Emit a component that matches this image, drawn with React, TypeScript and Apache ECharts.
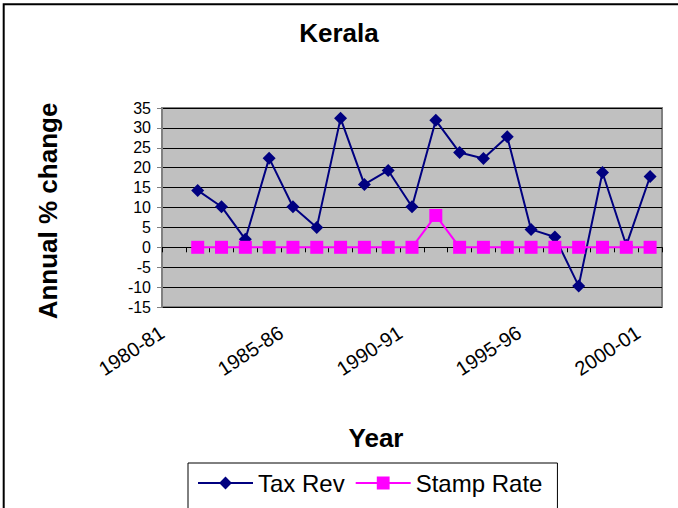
import React, { useEffect, useRef } from "react";
import * as echarts from "echarts";

const years = [
  "1980-81", "1981-82", "1982-83", "1983-84", "1984-85", "1985-86", "1986-87",
  "1987-88", "1988-89", "1989-90", "1990-91", "1991-92", "1992-93", "1993-94",
  "1994-95", "1995-96", "1996-97", "1997-98", "1998-99", "1999-00", "2000-01",
];
const taxRev = [
  null, 14.3, 10.2, 2.0, 22.4, 10.2, 5.0, 32.4, 15.8, 19.3, 10.2,
  31.9, 23.8, 22.3, 27.8, 4.5, 2.6, -9.7, 18.8, 0.5, 17.8,
];
const stampRate = [
  null, 0, 0, 0, 0, 0, 0, 0, 0, 0, 0,
  8, 0, 0, 0, 0, 0, 0, 0, 0, 0,
];
const yMin = -15;
const yMax = 35;
const yStep = 5;

const FONT = "Arial, 'Liberation Sans', sans-serif";

export default function App() {
  const ref = useRef<HTMLDivElement>(null);
  useEffect(() => {
    if (!ref.current) return;
    const chart = echarts.init(ref.current, undefined, { renderer: "svg" });
    chart.setOption({
      animation: false,
      backgroundColor: "#FFFFFF",
      textStyle: { fontFamily: FONT },
      title: {
        text: "Kerala",
        left: "center",
        top: 20,
        padding: 0,
        textStyle: { fontFamily: FONT, fontSize: 26, fontWeight: "bold", color: "#000" },
      },
      legend: {
        left: 188,
        top: 463,
        orient: "horizontal",
        padding: [8, 15, 40, 9],
        borderColor: "#000",
        borderWidth: 1,
        itemWidth: 55,
        itemHeight: 16,
        itemGap: 10,
        textStyle: { fontFamily: FONT, fontSize: 24, color: "#000" },
        data: ["Tax Rev", "Stamp Rate"],
      },
      grid: {
        left: 162,
        right: 16,
        top: 108,
        bottom: 201,
        show: true,
        backgroundColor: "#C0C0C0",
        borderColor: "#808080",
        borderWidth: 2,
      },
      xAxis: [
        {
          type: "category",
          data: years,
          position: "bottom",
          boundaryGap: true,
          axisLine: { show: false, onZero: false },
          axisTick: { show: false },
          splitLine: { show: false },
          axisLabel: {
            interval: 4,
            rotate: 33,
            fontSize: 20,
            fontFamily: FONT,
            color: "#000",
            margin: 16,
            padding: [0, 14, 0, 0],
          },
        },
        {
          type: "category",
          data: years,
          position: "bottom",
          boundaryGap: true,
          axisLine: { show: true, onZero: true, lineStyle: { color: "#000", width: 1 } },
          axisTick: { show: true, interval: 0, length: 5, lineStyle: { color: "#000", width: 1 } },
          axisLabel: { show: false },
          splitLine: { show: false },
        },
      ],
      yAxis: {
        type: "value",
        min: yMin,
        max: yMax,
        interval: yStep,
        axisLine: { show: true, lineStyle: { color: "#808080", width: 2 } },
        axisTick: { show: true, length: 5, lineStyle: { color: "#808080", width: 1 } },
        splitLine: { show: true, lineStyle: { color: "#000", width: 1 } },
        axisLabel: { fontSize: 16, fontFamily: FONT, color: "#000", margin: 11 },
      },
      graphic: [
        {
          type: "rect",
          shape: { x: 3.7, y: 4.3, width: 900, height: 900 },
          style: { fill: "none", stroke: "#000", lineWidth: 2 },
          silent: true,
        },
        {
          type: "text",
          x: 48,
          y: 211,
          rotation: Math.PI / 2,
          style: {
            text: "Annual % change",
            font: `bold 26px ${FONT}`,
            fill: "#000",
            align: "center",
            verticalAlign: "middle",
          },
        },
        {
          type: "text",
          x: 376,
          y: 438,
          style: {
            text: "Year",
            font: `bold 26px ${FONT}`,
            fill: "#000",
            align: "center",
            verticalAlign: "middle",
          },
        },
      ],
      series: [
        {
          name: "Tax Rev",
          type: "line",
          xAxisIndex: 0,
          data: taxRev,
          symbol: "diamond",
          symbolSize: 13,
          showAllSymbol: true,
          itemStyle: { color: "#000080" },
          lineStyle: { color: "#000080", width: 2 },
          z: 3,
        },
        {
          name: "Stamp Rate",
          type: "line",
          xAxisIndex: 0,
          data: stampRate,
          symbol: "rect",
          symbolSize: 13,
          showAllSymbol: true,
          itemStyle: { color: "#FF00FF" },
          lineStyle: { color: "#FF00FF", width: 2 },
          z: 4,
        },
      ],
    });
    return () => chart.dispose();
  }, []);
  return (
    <div
      ref={ref}
      style={{ position: "fixed", left: 0, top: 0, width: 678, height: 508 }}
    />
  );
}
